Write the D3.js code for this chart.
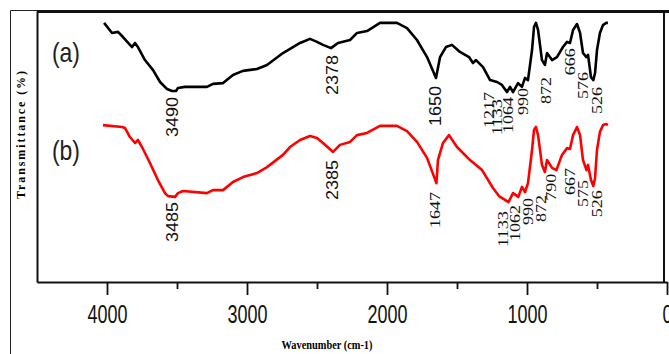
<!DOCTYPE html>
<html>
<head>
<meta charset="utf-8">
<script src="https://cdn.jsdelivr.net/npm/d3@7"></script>
<style>
  html, body { margin: 0; padding: 0; background: #fff; overflow: hidden; }
  svg { display: block; }
</style>
</head>
<body>
<svg id="chart" width="669" height="354"></svg>
<script>
// spectrum (a), black
const wavenumberA = [4021, 3964, 3921, 3886, 3821, 3800, 3779, 3729, 3671, 3621, 3571, 3536, 3507, 3493, 3443,
  3286, 3243, 3171, 3100, 3029, 2929, 2857, 2743, 2621, 2550, 2500, 2457, 2400, 2350, 2264, 2214, 2143, 2050,
  1929, 1857, 1786, 1714, 1650, 1621, 1579, 1536, 1479, 1414, 1386, 1364, 1314, 1264, 1214, 1179, 1143, 1121,
  1100, 1064, 1036, 1014, 993, 964, 950, 936, 921, 893, 872, 857, 821, 786, 743, 714, 693, 671, 643, 621, 600,
  576, 564, 543, 526, 514, 500, 479, 457, 436, 422];
const transmittanceA = [95.6, 91.9, 92.3, 90.4, 86.7, 88.2, 86.7, 81.9, 78.2, 73.8, 71.2, 70.5, 70.5, 71.6, 72.0,
  72.0, 73.1, 73.4, 76.4, 77.9, 78.6, 80.1, 84.5, 88.2, 89.7, 88.6, 87.5, 86.3, 88.2, 89.3, 91.9, 92.6, 95.6,
  95.6, 93.7, 89.3, 83.0, 75.3, 83.0, 86.7, 87.5, 84.9, 83.0, 80.8, 81.9, 79.3, 74.5, 73.8, 72.7, 70.1, 72.0,
  70.1, 73.4, 72.0, 75.3, 74.5, 85.6, 94.1, 95.6, 93.0, 81.9, 80.1, 84.5, 81.9, 83.0, 86.7, 88.6, 88.2, 93.0, 95.2, 91.9, 84.5,
  83.0, 83.8, 75.6, 74.5, 77.1, 85.6, 91.9, 94.8, 95.6, 95.6];

// spectrum (b), red
const wavenumberB = [4029, 3893, 3871, 3836, 3800, 3779, 3750, 3693, 3636, 3586, 3564, 3514, 3493, 3457, 3286,
  3243, 3171, 3100, 3029, 2929, 2857, 2743, 2693, 2621, 2550, 2500, 2457, 2385, 2336, 2264, 2214, 2143, 2050,
  1929, 1857, 1786, 1714, 1647, 1636, 1600, 1557, 1500, 1407, 1364, 1321, 1243, 1200, 1132, 1100, 1062, 1036,
  1014, 993, 964, 950, 936, 921, 893, 872, 857, 821, 790, 750, 714, 693, 671, 643, 621, 600, 575, 564, 543,
  526, 514, 500, 479, 457, 436, 422];
const transmittanceB = [57.9, 57.2, 56.8, 53.5, 51.3, 52.4, 49.8, 43.9, 37.6, 32.8, 31.7, 31.4, 32.8, 33.6, 32.8,
  33.9, 33.9, 36.9, 38.7, 40.2, 42.4, 46.9, 49.8, 52.4, 53.9, 53.1, 51.3, 48.0, 50.6, 51.7, 54.2, 55.0, 57.6,
  57.6, 55.7, 51.7, 45.8, 36.5, 45.0, 51.3, 54.2, 49.8, 45.0, 43.2, 41.3, 34.7, 31.7, 29.5, 32.8, 31.4, 35.1,
  33.2, 36.5, 48.7, 56.1, 57.2, 54.2, 43.2, 40.6, 45.0, 42.1, 41.3, 46.9, 49.4, 49.1, 54.2, 57.2, 54.2, 45.0, 41.3, 43.2, 37.6,
  35.4, 38.4, 48.7, 55.4, 57.9, 58.3, 57.9];

// peak labels: [text, wavenumber where it sits, transmittance at its top]
const peakLabelsA = [["3490", 3536, 68.3], ["2378", 2393, 83.8], ["1650", 1657, 72.3], ["1217", 1271, 70.1],
  ["1133", 1214, 67.5], ["1064", 1136, 68.3], ["990", 1029, 71.6], ["872", 864, 75.6], ["666", 693, 86.3],
  ["576", 600, 77.5], ["526", 500, 72.0]];
const peakLabelsB = [["3485", 3536, 29.5], ["2385", 2393, 45.0], ["1647", 1657, 33.2], ["1133", 1171, 26.2],
  ["1062", 1086, 28.4], ["990", 993, 31.0], ["872", 900, 32.1], ["790", 829, 39.9], ["667", 693, 42.1],
  ["575", 600, 37.6], ["526", 500, 33.9]];
const sansLabels = ["3490", "2378", "1650", "3485", "2385"];

const majorTicks = [4000, 3000, 2000, 1000, 0];
const minorTicks = [3500, 2500, 1500, 500];

const svg = d3.select('#chart');
const margin = { top: 11, right: 5, bottom: 72, left: 37 };
const width = 669, height = 354;
const innerBottom = height - margin.bottom;

const x = d3.scaleLinear().domain([4500, 0]).range([margin.left, 667]);
const y = d3.scaleLinear().domain([0, 100]).range([innerBottom, margin.top]);

// outer frame
svg.append('path')
  .attr('d', `M10.5,${height} V10.5 H${width}`)
  .attr('fill', 'none').attr('stroke', '#222').attr('stroke-width', 1);
svg.append('line')
  .attr('x1', margin.left).attr('x2', width).attr('y1', 11.5).attr('y2', 11.5)
  .attr('stroke', '#111').attr('stroke-width', 3);
svg.append('line')
  .attr('x1', 664).attr('x2', 664).attr('y1', 11).attr('y2', innerBottom)
  .attr('stroke', '#111').attr('stroke-width', 2);

// left axis, no ticks
svg.append('g')
  .attr('transform', `translate(${margin.left},0)`)
  .call(d3.axisLeft(y).tickValues([]).tickSizeOuter(0))
  .call(g => g.select('.domain').attr('stroke', '#111').attr('stroke-width', 2));

// bottom axis
const xAxis = svg.append('g')
  .attr('transform', `translate(0,${innerBottom})`)
  .call(d3.axisBottom(x).tickValues(majorTicks).tickSize(13).tickSizeOuter(0).tickPadding(10).tickFormat(d3.format('d')));
xAxis.select('.domain').attr('stroke', '#111').attr('stroke-width', 2);
xAxis.selectAll('.tick line').attr('stroke', '#111').attr('stroke-width', 1.8);
xAxis.selectAll('.tick text')
  .attr('fill', '#111')
  .attr('font-family', '"Liberation Sans", Arial, sans-serif')
  .attr('font-size', '26px')
  .attr('textLength', d => String(d).length * 10)
  .attr('lengthAdjust', 'spacingAndGlyphs');

svg.append('g')
  .attr('transform', `translate(0,${innerBottom})`)
  .call(d3.axisBottom(x).tickValues(minorTicks).tickSize(7).tickFormat(''))
  .call(g => g.select('.domain').remove())
  .call(g => g.selectAll('.tick line').attr('stroke', '#111').attr('stroke-width', 1.8));

// axis titles
svg.append('text')
  .attr('x', 327).attr('y', 349)
  .attr('text-anchor', 'middle')
  .attr('font-family', '"Liberation Serif", "Times New Roman", serif')
  .attr('font-weight', 'bold')
  .attr('font-size', '12px')
  .attr('textLength', 91).attr('lengthAdjust', 'spacingAndGlyphs')
  .text('Wavenumber (cm-1)');

svg.append('text')
  .attr('transform', 'translate(25,135) rotate(-90)')
  .attr('text-anchor', 'middle')
  .attr('font-family', '"Liberation Serif", "Times New Roman", serif')
  .attr('font-weight', 'bold')
  .attr('font-size', '12px')
  .attr('textLength', 128).attr('lengthAdjust', 'spacing')
  .text('Transmittance (%)');

// spectra
const line = d3.line().x(d => x(d[0])).y(d => y(d[1]));
const series = [
  { name: '(a)', wn: wavenumberA, t: transmittanceA, color: '#000000', labels: peakLabelsA, tagY: 81.2 },
  { name: '(b)', wn: wavenumberB, t: transmittanceB, color: '#ff0000', labels: peakLabelsB, tagY: 45.0 }
];

series.forEach(s => {
  const pts = s.wn.map((w, i) => [w, s.t[i]]);
  svg.append('path')
    .datum(pts)
    .attr('d', line)
    .attr('fill', 'none')
    .attr('stroke', s.color)
    .attr('stroke-width', 2.6)
    .attr('stroke-linejoin', 'round');

  svg.append('text')
    .attr('x', x(4293)).attr('y', y(s.tagY))
    .attr('text-anchor', 'middle')
    .attr('font-family', '"Liberation Sans", Arial, sans-serif')
    .attr('font-size', '28px')
    .attr('textLength', 28).attr('lengthAdjust', 'spacingAndGlyphs')
    .attr('fill', '#222')
    .text(s.name);

  svg.selectAll(null)
    .data(s.labels)
    .join('text')
    .attr('transform', d => `translate(${x(d[1])},${y(d[2])}) rotate(-90)`)
    .attr('text-anchor', 'end')
    .attr('dy', '0.35em')
    .attr('fill', '#111')
    .attr('font-family', d => sansLabels.includes(d[0])
      ? '"Liberation Sans", Arial, sans-serif'
      : '"Liberation Serif", "Times New Roman", serif')
    .attr('font-size', d => sansLabels.includes(d[0]) ? '16px' : '15px')
    .attr('textLength', d => d[0].length * (sansLabels.includes(d[0]) ? 10 : 9))
    .attr('lengthAdjust', 'spacingAndGlyphs')
    .text(d => d[0]);
});
</script>
</body>
</html>
